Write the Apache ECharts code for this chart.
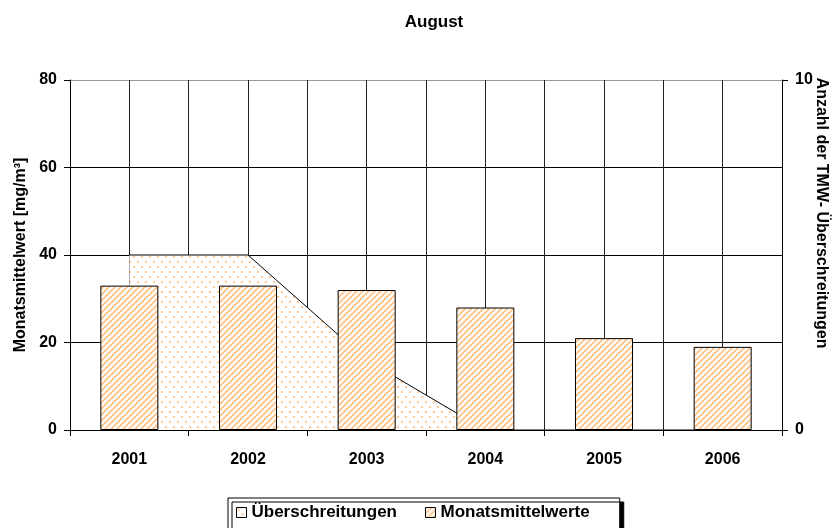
<!DOCTYPE html>
<html>
<head>
<meta charset="utf-8">
<script src="https://cdn.jsdelivr.net/npm/echarts@6/dist/echarts.min.js"></script>
<style>
  html, body { margin: 0; padding: 0; background: #fff; }
  #chart { width: 839px; height: 528px; }
</style>
</head>
<body>
<div id="chart"></div>
<script>
// Monthly means (left axis) and number of daily-mean exceedances (right axis)
const years = ['2001', '2002', '2003', '2004', '2005', '2006'];
const monatsmittelwerte = [33, 33, 32, 28, 21, 19];
const ueberschreitungen = [5, 5, 2, 0, 0, 0];
const leftTicks = [0, 20, 40, 60, 80];
const rightTicks = [0, 10];

const FONT = 'Arial, "Liberation Sans", sans-serif';

// Diagonal orange hatching for the bars
function stripePattern() {
  const s = 6;
  const c = document.createElement('canvas');
  c.width = s; c.height = s;
  const g = c.getContext('2d');
  g.fillStyle = '#ffffff';
  g.fillRect(0, 0, s, s);
  g.strokeStyle = '#ffc993';
  g.lineWidth = 2;
  g.beginPath();
  g.moveTo(0, s); g.lineTo(s, 0);
  g.moveTo(-1, 1); g.lineTo(1, -1);
  g.moveTo(s - 1, s + 1); g.lineTo(s + 1, s - 1);
  g.stroke();
  return { image: c, repeat: 'repeat' };
}

// Sparse staggered orange dots for the area
function dotPattern() {
  const w = 8, h = 10;
  const c = document.createElement('canvas');
  c.width = w; c.height = h;
  const g = c.getContext('2d');
  g.fillStyle = '#ffffff';
  g.fillRect(0, 0, w, h);
  g.fillStyle = '#ffc896';
  g.fillRect(1, 1, 2, 2);
  g.fillRect(5, 6, 2, 2);
  return { image: c, repeat: 'repeat' };
}

const chart = echarts.init(document.getElementById('chart'), null, { renderer: 'canvas' });

const stripes = stripePattern();
const dots = dotPattern();

chart.setOption({
  animation: false,
  backgroundColor: '#ffffff',
  title: {
    text: 'August',
    left: 429,
    top: 9,
    textAlign: 'center',
    textStyle: { fontFamily: FONT, fontWeight: 'bold', fontSize: 17, color: '#000' }
  },
  grid: { left: 70, right: 57, top: 80, bottom: 98, containLabel: false, outerBoundsMode: 'none' },
  legend: {
    left: 228,
    top: 498,
    padding: [6, 30, 8, 8],
    itemWidth: 10,
    itemHeight: 10,
    itemGap: 28,
    icon: 'rect',
    backgroundColor: '#fff',
    borderColor: '#000',
    borderWidth: 1,
    borderRadius: 0,
    shadowColor: '#000',
    shadowBlur: 0,
    shadowOffsetX: 4,
    shadowOffsetY: 4,
    textStyle: { fontFamily: FONT, fontWeight: 'bold', fontSize: 17, color: '#000' },
    data: [
      { name: 'Überschreitungen', itemStyle: { color: dots, borderColor: '#000', borderWidth: 1 } },
      { name: 'Monatsmittelwerte', itemStyle: { color: stripes, borderColor: '#000', borderWidth: 1 } }
    ]
  },
  xAxis: [
    {
      type: 'category',
      data: years,
      boundaryGap: true,
      axisLine: { show: true, lineStyle: { color: '#000', width: 1 } },
      axisTick: { show: true, length: 6, lineStyle: { color: '#000' } },
      axisLabel: { margin: 22, fontFamily: FONT, fontWeight: 'bold', fontSize: 16, color: '#000' },
      splitLine: { show: false }
    },
    {
      // half-category grid lines
      type: 'value',
      min: 0,
      max: years.length * 2,
      interval: 1,
      show: true,
      position: 'bottom',
      axisLine: { show: false },
      axisTick: { show: false },
      axisLabel: { show: false },
      splitLine: { show: true, lineStyle: { color: '#222', width: 1 } }
    }
  ],
  yAxis: [
    {
      type: 'value',
      min: leftTicks[0],
      max: leftTicks[leftTicks.length - 1],
      interval: 20,
      name: 'Monatsmittelwert [mg/m³]',
      nameLocation: 'middle',
      nameGap: 41,
      nameRotate: 90,
      nameMoveOverlap: false,
      nameTextStyle: { fontFamily: FONT, fontWeight: 'bold', fontSize: 16, color: '#000' },
      axisLine: { show: true, lineStyle: { color: '#000', width: 1 } },
      axisTick: { show: true, length: 6, lineStyle: { color: '#000' } },
      axisLabel: { margin: 13, fontFamily: FONT, fontWeight: 'bold', fontSize: 16, color: '#000' },
      splitLine: { show: true, lineStyle: { color: ['#000', '#000', '#000', '#000', '#999'], width: 1 } }
    },
    {
      type: 'value',
      min: rightTicks[0],
      max: rightTicks[rightTicks.length - 1],
      interval: 10,
      position: 'right',
      name: 'Anzahl der TMW- Überschreitungen',
      nameLocation: 'middle',
      nameGap: 31,
      nameRotate: -90,
      nameMoveOverlap: false,
      nameTextStyle: { fontFamily: FONT, fontWeight: 'bold', fontSize: 16, color: '#000', padding: [0, 84, 0, 0] },
      axisLine: { show: true, lineStyle: { color: '#000', width: 1 } },
      axisTick: { show: true, length: 6, lineStyle: { color: '#000' } },
      axisLabel: { margin: 13, fontFamily: FONT, fontWeight: 'bold', fontSize: 16, color: '#000' },
      splitLine: { show: false }
    }
  ],
  series: [
    {
      name: 'Überschreitungen',
      type: 'line',
      xAxisIndex: 0,
      yAxisIndex: 1,
      data: ueberschreitungen,
      symbol: 'none',
      z: 3,
      lineStyle: { color: '#000', width: 1 },
      itemStyle: { color: dots, borderColor: '#000' },
      areaStyle: { color: dots, opacity: 1 }
    },
    {
      name: 'Monatsmittelwerte',
      type: 'bar',
      xAxisIndex: 0,
      yAxisIndex: 0,
      data: monatsmittelwerte,
      barWidth: 58,
      z: 4,
      itemStyle: { color: stripes, borderColor: '#000', borderWidth: 1 }
    }
  ]
});
</script>
</body>
</html>
